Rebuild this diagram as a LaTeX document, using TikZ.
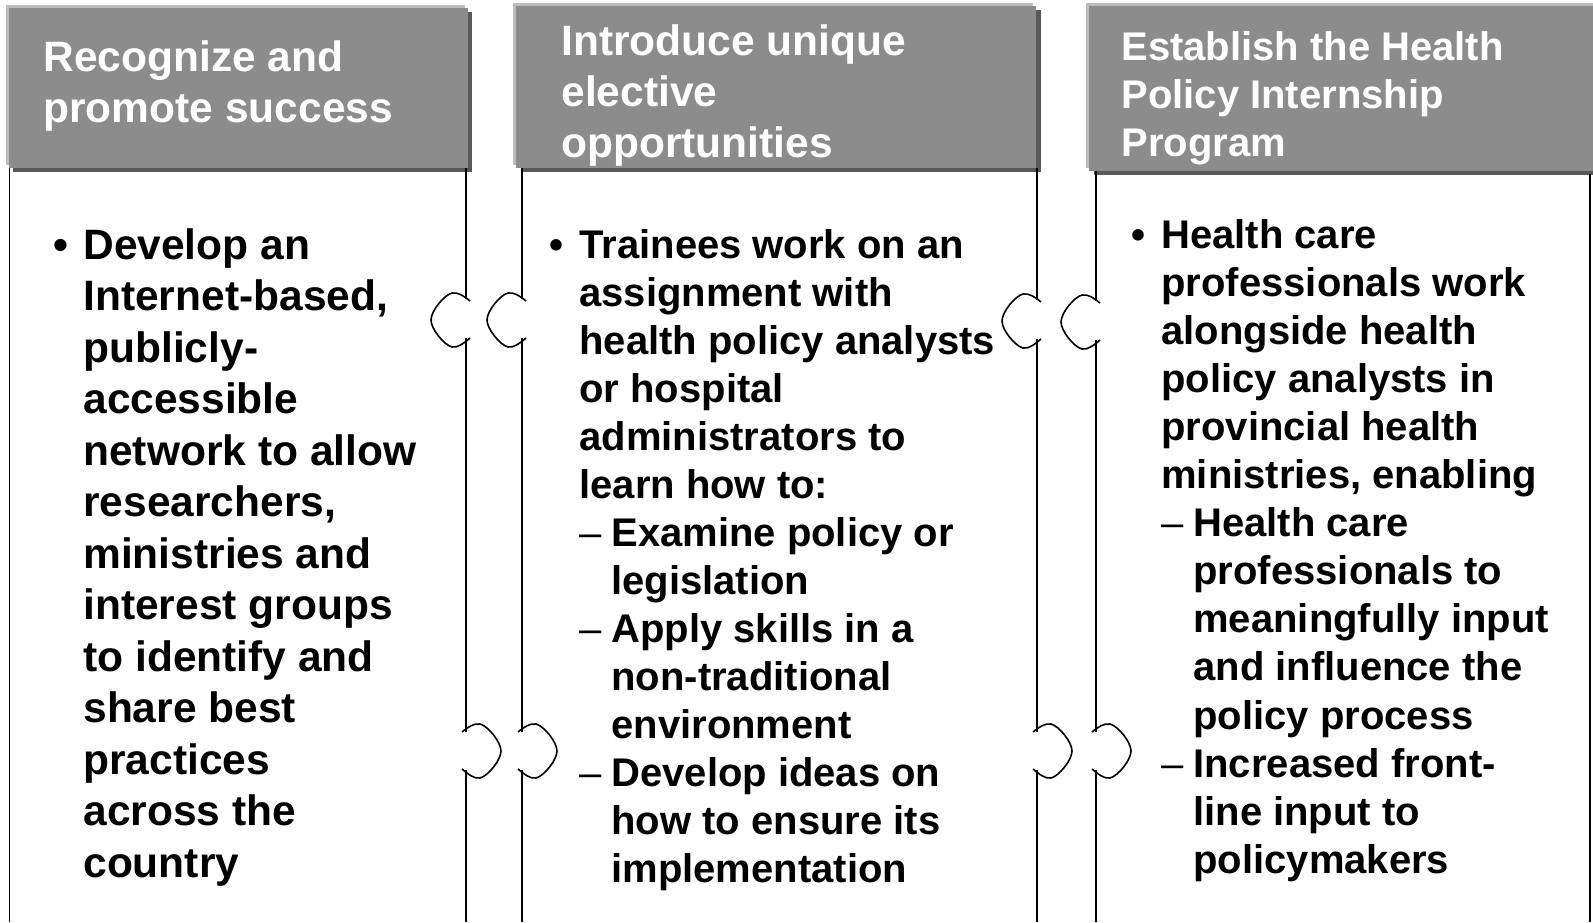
\documentclass[tikz,border=0pt]{standalone}
\usepackage{fontspec}
\setmainfont{Liberation Sans}
\definecolor{hdrfill}{RGB}{140,140,140}
\definecolor{hdrlight}{RGB}{188,188,188}
\definecolor{hdrshadow}{RGB}{88,88,88}
\newcommand\mybul{\makebox[15pt][l]{•}}
\newcommand\myind{\hspace*{15pt}}
\newcommand\mydash{\makebox[16pt][l]{\mdseries –}}
\newcommand\mysub{\hspace*{31pt}}
\begin{document}
\begin{tikzpicture}[x=0.5pt,y=-0.5pt,
  colline/.style={line width=0.8pt,black},
  hdrtext/.style={anchor=north west,inner sep=0pt,align=left,text=white},
  bodytext/.style={anchor=north west,inner sep=0pt,align=left,text=black},
  cnotch/.pic={\draw[colline] (4,-19) .. controls (-2,-24) and (-8,-28) .. (-14,-27)
     .. controls (-22,-25) and (-35,-9) .. (-35,0)
     .. controls (-35,9) and (-22,25) .. (-14,27)
     .. controls (-8,28) and (-2,23) .. (4,18);}
]
\useasboundingbox (0,0) rectangle (1593,922);
\clip (0,0) rectangle (1593,922);
% headers
\fill[hdrlight] (6,5) rectangle (465,165);
\fill[hdrshadow] (13,12) rectangle (472,172);
\fill[hdrfill] (9,8) rectangle (468,168);
\fill[hdrlight] (513,3) rectangle (1033,165);
\fill[hdrshadow] (521,10) rectangle (1041,172);
\fill[hdrfill] (516,6) rectangle (1036,168);
\fill[hdrlight] (1086,3) rectangle (1600,168);
\fill[hdrshadow] (1094,10) rectangle (1605,175);
\fill[hdrfill] (1089,6) rectangle (1600,171);
% header texts
\node[hdrtext,font=\bfseries\fontsize{21.25pt}{25.5pt}\selectfont] (h1) at (43,35)
  {\strut Recognize and\\promote success};
\node[hdrtext,font=\bfseries\fontsize{21.25pt}{25.4pt}\selectfont] (h2) at (561,20)
  {\strut Introduce unique\\elective\\opportunities};
\node[hdrtext,font=\bfseries\fontsize{20pt}{24.15pt}\selectfont] (h3) at (1121,26)
  {\strut Establish the Health\\Policy Internship\\Program};
% column lines
\draw[colline] (9.5,168) -- (9.5,922);
\draw[colline] (466,168) -- (466,299) (466,338) -- (466,732) (466,770) -- (466,922);
\draw[colline] (522,168) -- (522,299) (522,338) -- (522,732) (522,770) -- (522,922);
\draw[colline] (1037,168) -- (1037,300) (1037,339) -- (1037,732) (1037,770) -- (1037,922);
\draw[colline] (1096,171) -- (1096,301) (1096,340) -- (1096,732) (1096,770) -- (1096,922);
\draw[colline] (1590,174) -- (1590,922);
% puzzle notches
\pic at (466,320) {cnotch};
\pic at (522,320) {cnotch};
\pic at (1037,321) {cnotch};
\pic at (1096,322) {cnotch};
\pic[xscale=-1] at (466,751) {cnotch};
\pic[xscale=-1] at (522,751) {cnotch};
\pic[xscale=-1] at (1037,751) {cnotch};
\pic[xscale=-1] at (1096,751) {cnotch};
% body texts
\node[bodytext,font=\bfseries\fontsize{21.25pt}{25.75pt}\selectfont] (b1) at (53,223)
  {\strut\mybul Develop an\\
   \myind Internet-based,\\
   \myind publicly-\\
   \myind accessible\\
   \myind network to allow\\
   \myind researchers,\\
   \myind ministries and\\
   \myind interest groups\\
   \myind to identify and\\
   \myind share best\\
   \myind practices\\
   \myind across the\\
   \myind country};
\node[bodytext,font=\bfseries\fontsize{20pt}{24.03pt}\selectfont] (b2) at (549,224)
  {\strut\mybul Trainees work on an\\
   \myind assignment with\\
   \myind health policy analysts\\
   \myind or hospital\\
   \myind administrators to\\
   \myind learn how to:\\
   \myind\mydash Examine policy or\\
   \mysub legislation\\
   \myind\mydash Apply skills in a\\
   \mysub non-traditional\\
   \mysub environment\\
   \myind\mydash Develop ideas on\\
   \mysub how to ensure its\\
   \mysub implementation};
\node[bodytext,font=\bfseries\fontsize{20pt}{24.05pt}\selectfont] (b3) at (1131,214)
  {\strut\mybul Health care\\
   \myind professionals work\\
   \myind alongside health\\
   \myind policy analysts in\\
   \myind provincial health\\
   \myind ministries, enabling\\
   \myind\mydash Health care\\
   \mysub professionals to\\
   \mysub meaningfully input\\
   \mysub and influence the\\
   \mysub policy process\\
   \myind\mydash Increased front-\\
   \mysub line input to\\
   \mysub policymakers};
\end{tikzpicture}
\end{document}
